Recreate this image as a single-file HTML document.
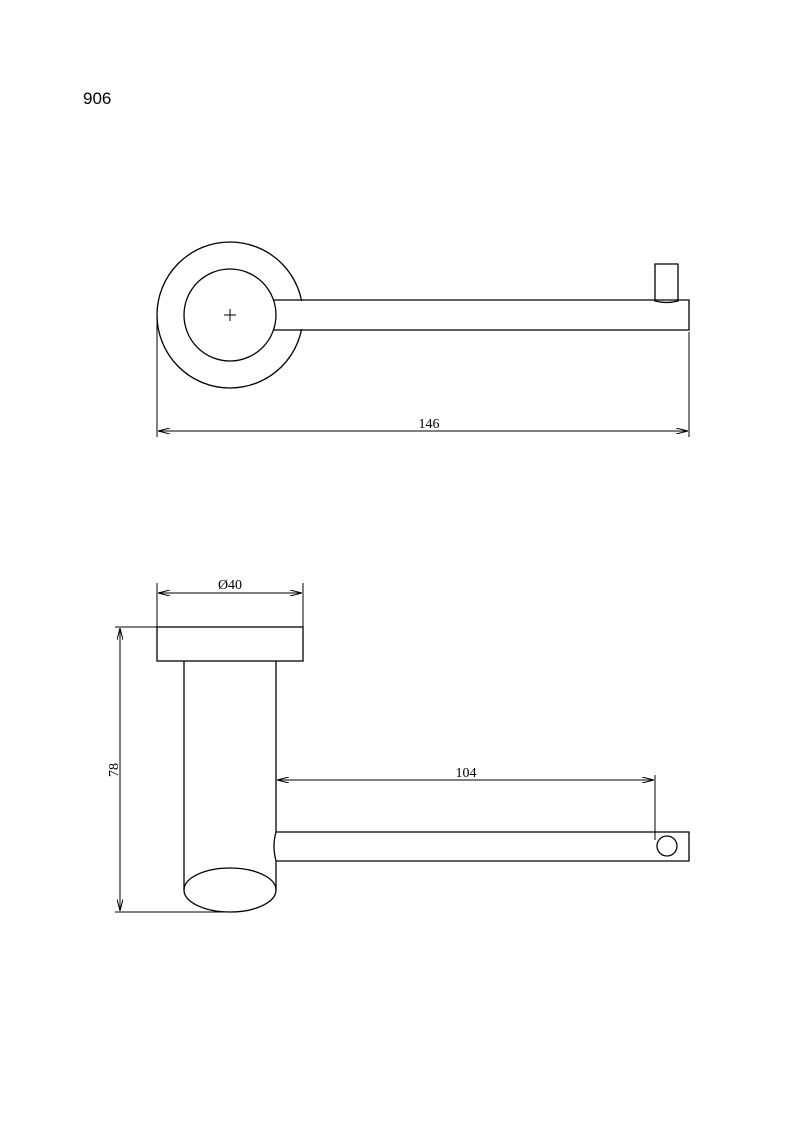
<!DOCTYPE html>
<html><head><meta charset="utf-8"><style>
html,body{margin:0;padding:0;background:#fff}
svg{display:block}
</style></head><body>
<svg width="793" height="1123" viewBox="0 0 793 1123" xmlns="http://www.w3.org/2000/svg">
<defs>
<marker id="a" markerWidth="12" markerHeight="6" refX="12" refY="3" orient="auto-start-reverse" markerUnits="userSpaceOnUse">
<path d="M0,0 L12,3 L0,6" fill="none" stroke="#000" stroke-width="1"/>
</marker>
</defs>
<text x="83" y="104" font-family="Liberation Sans, sans-serif" font-size="17">906</text>
<g fill="none" stroke="#000" stroke-width="1.3">
<!-- top view -->
<circle cx="230" cy="315" r="73" fill="#fff"/>
<rect x="272" y="301" width="36" height="28" fill="#fff" stroke="none"/>
<path d="M273.5,300 L689,300 L689,330 L273.5,330"/>
<circle cx="230" cy="315" r="46"/>
<path d="M655,264 L678,264 L678,301 Q667,304 655,301 Z"/>
<path d="M224,315 L236,315 M230,309 L230,321" stroke-width="1"/>
<path d="M157,318 L157,437 M689,332 L689,437" stroke-width="1"/>
<line x1="158" y1="431" x2="688" y2="431" stroke-width="1" marker-start="url(#a)" marker-end="url(#a)"/>
<!-- side view -->
<rect x="157" y="627" width="146" height="34"/>
<path d="M184,661 L184,890 M276,661 L276,832"/>
<ellipse cx="230" cy="890" rx="46" ry="22"/>
<path d="M276,832 L689,832 L689,861 L276,861 Q272,846 276,832"/>
<path d="M276,861 L276,890"/>
<circle cx="667" cy="846" r="10"/>
<path d="M157,583 L157,627 M303,583 L303,627" stroke-width="1"/>
<line x1="158" y1="593" x2="302" y2="593" stroke-width="1" marker-start="url(#a)" marker-end="url(#a)"/>
<path d="M655,775 L655,840" stroke-width="1"/>
<line x1="277" y1="780" x2="654" y2="780" stroke-width="1" marker-start="url(#a)" marker-end="url(#a)"/>
<path d="M115,627 L157,627 M115,912 L232,912" stroke-width="1"/>
<line x1="120" y1="628" x2="120" y2="911" stroke-width="1" marker-start="url(#a)" marker-end="url(#a)"/>
</g>
<g font-family="Liberation Serif, serif" font-size="14" fill="#000" text-anchor="middle">
<text x="429" y="428">146</text>
<text x="230" y="589">Ø40</text>
<text x="466" y="777">104</text>
<text x="0" y="0" transform="translate(118,770) rotate(-90)">78</text>
</g>
</svg>
</body></html>
